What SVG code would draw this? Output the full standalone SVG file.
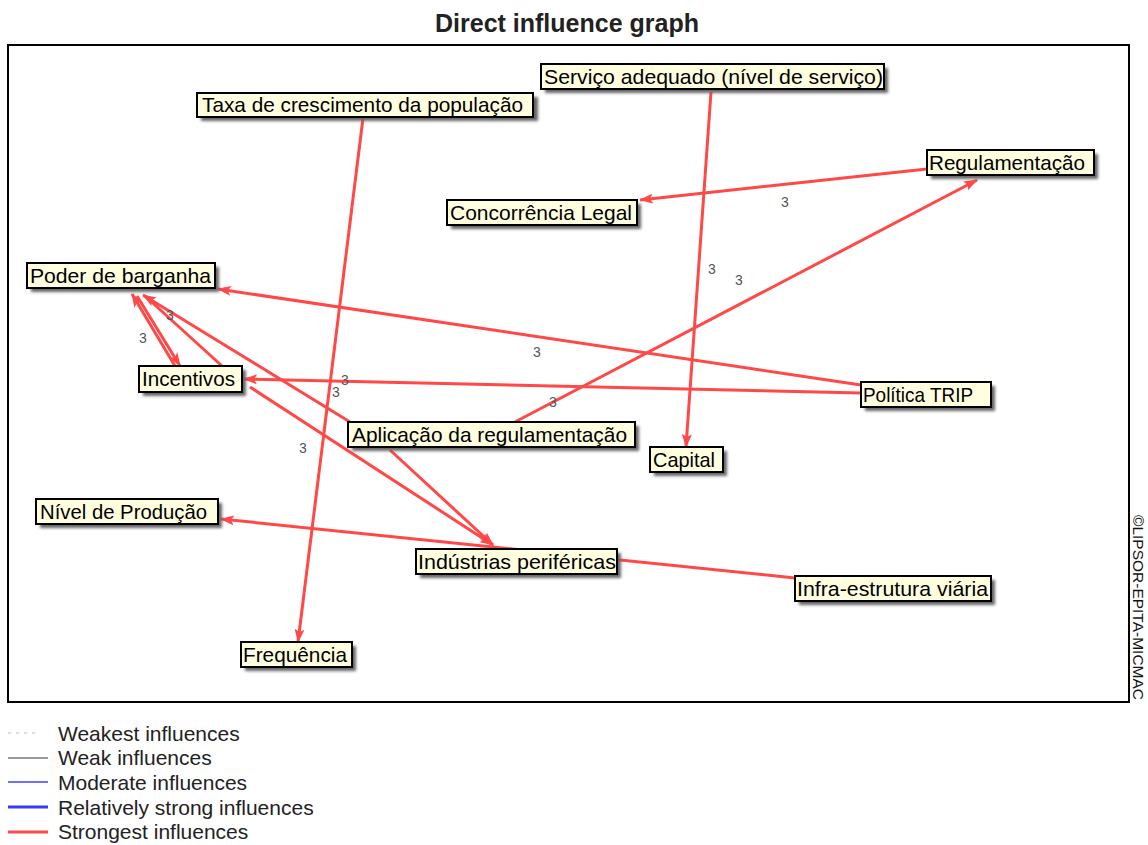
<svg xmlns="http://www.w3.org/2000/svg" width="1148" height="845" viewBox="0 0 1148 845">
  <style>
    .title { font-family: "Liberation Sans", Arial, sans-serif; font-size: 25px; font-weight: bold; fill: #222; }
    .lbl { font-family: "Liberation Sans", Arial, sans-serif; font-size: 21px; fill: #000; }
    .box { fill: #ffffe0; stroke: #000; stroke-width: 2; }
    .shadow { fill: #666; filter: url(#soft); }
    .edge { stroke: #ff4848; stroke-width: 3; fill: none; marker-end: url(#arrow); }
    .edge-plain { stroke: #ff4848; stroke-width: 3; fill: none; }
    .val { font-family: "Liberation Sans", Arial, sans-serif; font-size: 14px; fill: #555; text-anchor: middle; }
    .legend { font-family: "Liberation Sans", Arial, sans-serif; font-size: 21px; fill: #222; }
    .stamp { font-family: "Liberation Sans", Arial, sans-serif; font-size: 14px; fill: #111; }
  </style>
  <defs>
    <filter id="soft" x="-10%" y="-30%" width="120%" height="160%">
      <feGaussianBlur stdDeviation="1.5"/>
    </filter>
    <marker id="arrow" viewBox="0 0 14 10" refX="13" refY="5" markerWidth="14" markerHeight="10" markerUnits="userSpaceOnUse" orient="auto">
      <path d="M0,0 L14,5 L0,10 L3,5 Z" fill="#ff4848"/>
    </marker>
  </defs>

  <rect width="1148" height="845" fill="#fff"/>

  <text class="title" x="567" y="32" text-anchor="middle">Direct influence graph</text>

  <!-- plot frame -->
  <rect x="8" y="45" width="1121" height="657" fill="#fff" stroke="#000" stroke-width="2"/>
  <text class="stamp" transform="translate(1133,515) rotate(90)" textLength="185" lengthAdjust="spacingAndGlyphs">©LIPSOR-EPITA-MICMAC</text>

  <!-- influence arrows -->
  <g id="connectors">
    <line class="edge" x1="711" y1="92" x2="686" y2="447"/>
    <line class="edge" x1="363" y1="118" x2="298" y2="642"/>
    <line class="edge" x1="927" y1="169" x2="640" y2="200"/>
    <line class="edge" x1="513" y1="423" x2="977" y2="180"/>
    <line class="edge" x1="861" y1="385" x2="218" y2="289"/>
    <line class="edge" x1="861" y1="393" x2="244" y2="379"/>
    <line class="edge" x1="137" y1="296" x2="180" y2="366"/>
    <line class="edge" x1="175" y1="366" x2="132" y2="294"/>
    <line class="edge" x1="350" y1="422" x2="143" y2="295"/>
    <line class="edge-plain" x1="145" y1="296" x2="222" y2="366"/>
    <line class="edge" x1="250" y1="387" x2="493" y2="545"/>
    <line class="edge" x1="390" y1="450" x2="493" y2="545"/>
    <line class="edge" x1="795" y1="578" x2="221" y2="519"/>

    <text class="val" x="785" y="207">3</text>
    <text class="val" x="712" y="274">3</text>
    <text class="val" x="739" y="285">3</text>
    <text class="val" x="537" y="357">3</text>
    <text class="val" x="553" y="407">3</text>
    <text class="val" x="345" y="385">3</text>
    <text class="val" x="336" y="397">3</text>
    <text class="val" x="170" y="320">3</text>
    <text class="val" x="143" y="343">3</text>
    <text class="val" x="303" y="453">3</text>
  </g>

  <!-- variables -->
  <g id="taxa">
    <rect class="shadow" x="201" y="97" width="337" height="24"/>
    <rect class="box" x="197" y="93" width="336" height="24"/>
    <text class="lbl" x="202" y="112" textLength="321" lengthAdjust="spacingAndGlyphs">Taxa de crescimento da população</text>
  </g>
  <g id="servico">
    <rect class="shadow" x="545" y="68" width="343" height="25"/>
    <rect class="box" x="541" y="64" width="343" height="25"/>
    <text class="lbl" x="544" y="84" textLength="339" lengthAdjust="spacingAndGlyphs">Serviço adequado (nível de serviço)</text>
  </g>
  <g id="regulamentacao">
    <rect class="shadow" x="931" y="154" width="167" height="25"/>
    <rect class="box" x="927" y="150" width="167" height="25"/>
    <text class="lbl" x="929" y="170" textLength="156" lengthAdjust="spacingAndGlyphs">Regulamentação</text>
  </g>
  <g id="concorrencia">
    <rect class="shadow" x="451" y="204" width="190" height="25"/>
    <rect class="box" x="447" y="200" width="190" height="25"/>
    <text class="lbl" x="450" y="220" textLength="182" lengthAdjust="spacingAndGlyphs">Concorrência Legal</text>
  </g>
  <g id="poder">
    <rect class="shadow" x="31" y="267" width="188" height="25"/>
    <rect class="box" x="27" y="263" width="188" height="25"/>
    <text class="lbl" x="30" y="283" textLength="181" lengthAdjust="spacingAndGlyphs">Poder de barganha</text>
  </g>
  <g id="incentivos">
    <rect class="shadow" x="143" y="370" width="103" height="26"/>
    <rect class="box" x="139" y="366" width="103" height="26"/>
    <text class="lbl" x="142" y="386" textLength="93" lengthAdjust="spacingAndGlyphs">Incentivos</text>
  </g>
  <g id="politica">
    <rect class="shadow" x="865" y="386" width="130" height="25"/>
    <rect class="box" x="861" y="382" width="130" height="25"/>
    <text class="lbl" x="863" y="402" textLength="110" lengthAdjust="spacingAndGlyphs">Política TRIP</text>
  </g>
  <g id="aplicacao">
    <rect class="shadow" x="352" y="426" width="287" height="25"/>
    <rect class="box" x="348" y="422" width="287" height="25"/>
    <text class="lbl" x="352" y="442" textLength="275" lengthAdjust="spacingAndGlyphs">Aplicação da regulamentação</text>
  </g>
  <g id="capital">
    <rect class="shadow" x="654" y="451" width="73" height="25"/>
    <rect class="box" x="650" y="447" width="73" height="25"/>
    <text class="lbl" x="653" y="467" textLength="62" lengthAdjust="spacingAndGlyphs">Capital</text>
  </g>
  <g id="nivel">
    <rect class="shadow" x="40" y="503" width="182" height="25"/>
    <rect class="box" x="36" y="499" width="182" height="25"/>
    <text class="lbl" x="40" y="519" textLength="167" lengthAdjust="spacingAndGlyphs">Nível de Produção</text>
  </g>
  <g id="industrias">
    <rect class="shadow" x="420" y="553" width="201" height="25"/>
    <rect class="box" x="416" y="549" width="201" height="25"/>
    <text class="lbl" x="418" y="569" textLength="198" lengthAdjust="spacingAndGlyphs">Indústrias periféricas</text>
  </g>
  <g id="infra">
    <rect class="shadow" x="799" y="580" width="196" height="25"/>
    <rect class="box" x="795" y="576" width="196" height="25"/>
    <text class="lbl" x="797" y="596" textLength="191" lengthAdjust="spacingAndGlyphs">Infra-estrutura viária</text>
  </g>
  <g id="frequencia">
    <rect class="shadow" x="245" y="646" width="111" height="25"/>
    <rect class="box" x="241" y="642" width="111" height="25"/>
    <text class="lbl" x="243" y="662" textLength="104" lengthAdjust="spacingAndGlyphs">Frequência</text>
  </g>

  <!-- legend -->
  <g id="legend">
    <line x1="8" y1="733" x2="40" y2="733" stroke="#bbb" stroke-width="1" stroke-dasharray="3,5"/>
    <text class="legend" x="58" y="741">Weakest influences</text>
    <line x1="8" y1="758" x2="48" y2="758" stroke="#777" stroke-width="1.5"/>
    <text class="legend" x="58" y="765">Weak influences</text>
    <line x1="8" y1="782" x2="48" y2="782" stroke="#4040ff" stroke-width="1.5"/>
    <text class="legend" x="58" y="790">Moderate influences</text>
    <line x1="8" y1="807" x2="48" y2="807" stroke="#3a3aff" stroke-width="3"/>
    <text class="legend" x="58" y="815">Relatively strong influences</text>
    <line x1="8" y1="832" x2="48" y2="832" stroke="#ff4848" stroke-width="3"/>
    <text class="legend" x="58" y="839">Strongest influences</text>
  </g>
</svg>
